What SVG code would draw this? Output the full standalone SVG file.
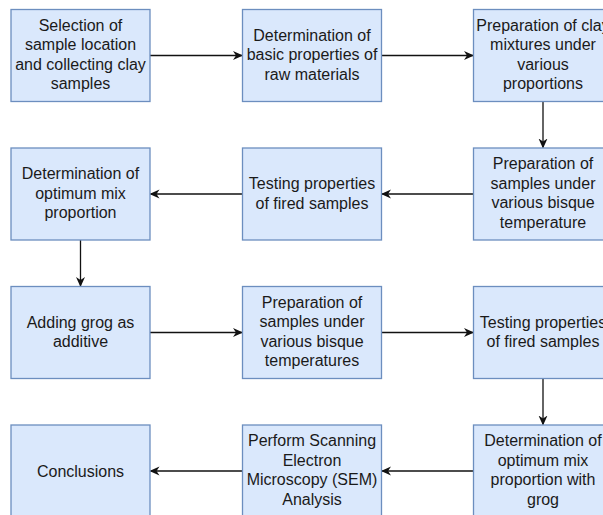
<svg xmlns="http://www.w3.org/2000/svg" width="603" height="515" viewBox="0 0 603 515">
  <style>
    .box { fill: #dae8fc; stroke: #6c8ebf; stroke-width: 1.3; }
    .lbl { font-family: "Liberation Sans", Arial, sans-serif; font-size: 16px; fill: #1a1a1a; text-anchor: middle; }
    .edge { fill: none; stroke: #111; stroke-width: 1.3; marker-end: url(#arrow); }
  </style>
  <defs>
    <marker id="arrow" viewBox="0 0 10 10" refX="9" refY="5" markerWidth="10" markerHeight="10" markerUnits="userSpaceOnUse" orient="auto">
      <path d="M0,0.5 L10,5 L0,9.5 L3,5 Z" fill="#111"/>
    </marker>
  </defs>
  <rect width="603" height="515" fill="#ffffff"/>

  <g id="connectors">
    <path class="edge" d="M150,55.5 H242"/>
    <path class="edge" d="M381.5,55.5 H473"/>
    <path class="edge" d="M543,101.5 V147.5"/>
    <path class="edge" d="M473.5,194 H382"/>
    <path class="edge" d="M242.5,194 H150.5"/>
    <path class="edge" d="M80.5,240 V286"/>
    <path class="edge" d="M150,332.5 H242"/>
    <path class="edge" d="M381.5,332.5 H473"/>
    <path class="edge" d="M543,378.5 V424.5"/>
    <path class="edge" d="M473.5,471 H382"/>
    <path class="edge" d="M242.5,471 H150.5"/>
  </g>

  <g id="n1">
    <rect class="box" x="11" y="9.5" width="139" height="92"/>
    <text class="lbl" x="80.5"><tspan y="30.5" x="80.5">Selection of</tspan><tspan y="50" x="80.5">sample location</tspan><tspan y="69.5" x="80.5">and collecting clay</tspan><tspan y="89" x="80.5">samples</tspan></text>
  </g>
  <g id="n2">
    <rect class="box" x="242.5" y="9.5" width="139" height="92"/>
    <text class="lbl" x="312"><tspan y="40.5" x="312">Determination of</tspan><tspan y="60" x="312">basic properties of</tspan><tspan y="79.5" x="312">raw materials</tspan></text>
  </g>
  <g id="n3">
    <rect class="box" x="473.5" y="9.5" width="139" height="92"/>
    <text class="lbl" x="543"><tspan y="30.5" x="543">Preparation of clay</tspan><tspan y="50" x="543">mixtures under</tspan><tspan y="69.5" x="543">various</tspan><tspan y="89" x="543">proportions</tspan></text>
  </g>

  <g id="n4">
    <rect class="box" x="473.5" y="148" width="139" height="92"/>
    <text class="lbl" x="543"><tspan y="169" x="543">Preparation of</tspan><tspan y="188.5" x="543">samples under</tspan><tspan y="208" x="543">various bisque</tspan><tspan y="227.5" x="543">temperature</tspan></text>
  </g>
  <g id="n5">
    <rect class="box" x="242.5" y="148" width="139" height="92"/>
    <text class="lbl" x="312"><tspan y="189" x="312">Testing properties</tspan><tspan y="208.5" x="312">of fired samples</tspan></text>
  </g>
  <g id="n6">
    <rect class="box" x="11" y="148" width="139" height="92"/>
    <text class="lbl" x="80.5"><tspan y="179" x="80.5">Determination of</tspan><tspan y="198.5" x="80.5">optimum mix</tspan><tspan y="218" x="80.5">proportion</tspan></text>
  </g>

  <g id="n7">
    <rect class="box" x="11" y="286.5" width="139" height="92"/>
    <text class="lbl" x="80.5"><tspan y="327.5" x="80.5">Adding grog as</tspan><tspan y="347" x="80.5">additive</tspan></text>
  </g>
  <g id="n8">
    <rect class="box" x="242.5" y="286.5" width="139" height="92"/>
    <text class="lbl" x="312"><tspan y="307.5" x="312">Preparation of</tspan><tspan y="327" x="312">samples under</tspan><tspan y="346.5" x="312">various bisque</tspan><tspan y="366" x="312">temperatures</tspan></text>
  </g>
  <g id="n9">
    <rect class="box" x="473.5" y="286.5" width="139" height="92"/>
    <text class="lbl" x="543"><tspan y="327.5" x="543">Testing properties</tspan><tspan y="347" x="543">of fired samples</tspan></text>
  </g>

  <g id="n10">
    <rect class="box" x="473.5" y="425" width="139" height="92"/>
    <text class="lbl" x="543"><tspan y="446" x="543">Determination of</tspan><tspan y="465.5" x="543">optimum mix</tspan><tspan y="485" x="543">proportion with</tspan><tspan y="504.5" x="543">grog</tspan></text>
  </g>
  <g id="n11">
    <rect class="box" x="242.5" y="425" width="139" height="92"/>
    <text class="lbl" x="312"><tspan y="446" x="312">Perform Scanning</tspan><tspan y="465.5" x="312">Electron</tspan><tspan y="485" x="312">Microscopy (SEM)</tspan><tspan y="504.5" x="312">Analysis</tspan></text>
  </g>
  <g id="n12">
    <rect class="box" x="11" y="425" width="139" height="92"/>
    <text class="lbl" x="80.5"><tspan y="476.5" x="80.5">Conclusions</tspan></text>
  </g>
</svg>
